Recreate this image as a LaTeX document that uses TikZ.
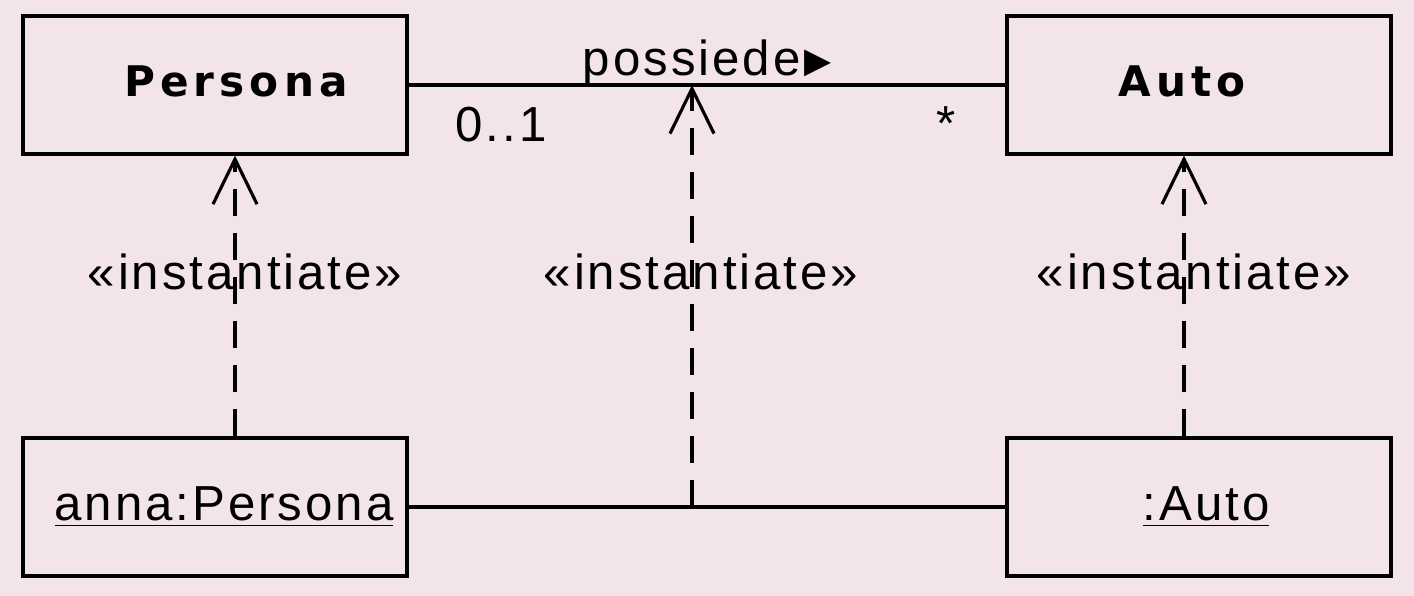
\documentclass[tikz,border=0pt]{standalone}
\usepackage{fontspec}
\usepackage{xcolor}
\usepackage{tikz}
\usetikzlibrary{arrows.meta,positioning}
\setmainfont[LetterSpace=6]{Liberation Sans}
\newfontfamily\clsfont[LetterSpace=12]{DejaVu Sans Bold}
\newfontfamily\symfont{DejaVu Sans}
\definecolor{bgpink}{HTML}{F2E4E9}

\tikzset{
  box/.style={draw,line width=0.9pt,minimum width=3.84cm,minimum height=1.38cm,inner sep=0pt},
  clsname/.style={font=\clsfont\fontsize{12}{14}\selectfont,inner sep=0pt},
  objname/.style={font=\fontsize{14}{16}\selectfont,inner sep=0pt},
  lbl/.style={font=\fontsize{14}{16}\selectfont,inner sep=0pt},
  inst/.style={line width=0.9pt,dash pattern=on 0.27cm off 0.17cm,-{Straight Barb[length=0.45cm,width=0.44cm,line width=0.9pt]}}
}

\begin{document}
\begin{tikzpicture}
\fill[bgpink] (0,0) rectangle (14.14,5.96);
\useasboundingbox (0,0) rectangle (14.14,5.96);

% classes
\node[box] (persona) at (2.15,5.11) {};
\node[box] (auto) at (11.99,5.11) {};
\node[clsname] (personaname) at (2.36,5.15) {Persona};
\node[clsname] (autoname) at (11.82,5.15) {Auto};

% objects
\node[box] (anna) at (2.15,0.89) {};
\node[box] (autoobj) at (11.99,0.89) {};
\node[objname] (annaname) at (2.24,0.89) {\underline{anna:Persona}};
\node[objname] (autoobjname) at (12.06,0.89) {\underline{:Auto}};

% links
\draw[line width=0.9pt] (persona.east) -- (auto.west);
\draw[line width=0.9pt] (anna.east) -- (autoobj.west);
\coordinate (assoc) at (6.92,5.11);
\coordinate (link) at (6.92,0.89);

\node[lbl] (possiede) at (7.07,5.33) {possiede\kern1pt{\symfont\fontsize{10}{10}\selectfont\raisebox{0.8pt}{▶}}};
\node[lbl] (mult1) at (5.01,4.71) {0..1};
\node[lbl] (mult2) at (9.46,4.72) {*};

% instantiate
\draw[inst] ([xshift=0.2cm]anna.north) -- ([xshift=0.2cm]persona.south);
\draw[inst] (link) -- (assoc);
\draw[inst] ([xshift=-0.15cm]autoobj.north) -- ([xshift=-0.15cm]auto.south);
\node[lbl] (inst1) at (2.45,3.24) {«instantiate»};
\node[lbl] (inst2) at (7.01,3.24) {«instantiate»};
\node[lbl] (inst3) at (11.94,3.24) {«instantiate»};
\end{tikzpicture}
\end{document}
